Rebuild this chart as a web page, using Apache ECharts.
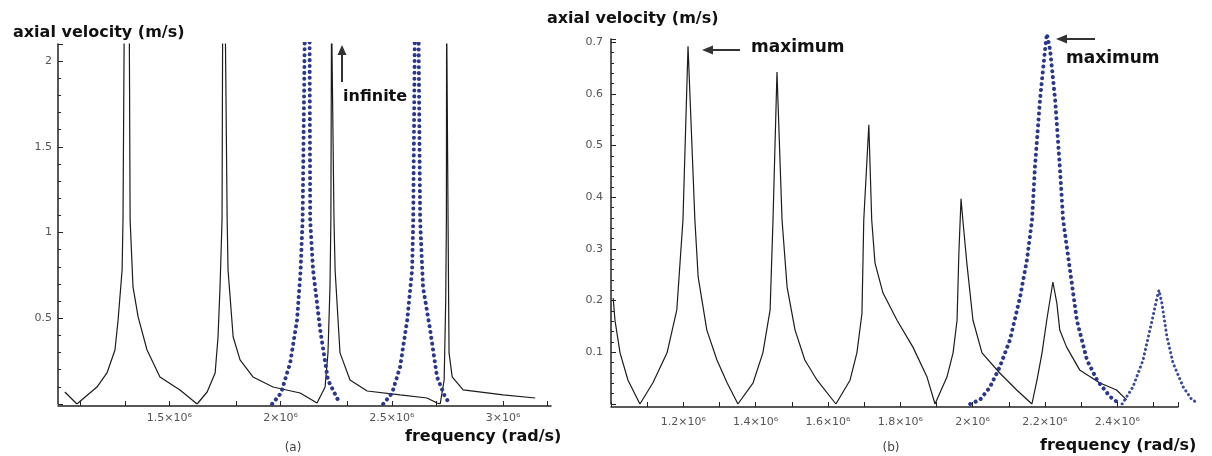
<!DOCTYPE html>
<html><head><meta charset="utf-8">
<script src="https://cdn.jsdelivr.net/npm/echarts@6/dist/echarts.min.js"></script>
<style>html,body{margin:0;padding:0;background:#fff}#c{width:1212px;height:456px}</style>
</head><body><div id="c"></div>
<script>
// frequency in units of 10^6 rad/s, axial velocity in m/s
// (a) solid black curve (values above 2.1 stand for the infinite spikes)
const leftBlack = [
  [1.031,0.070],[1.085,0],[1.175,0.099],[1.220,0.181],[1.256,0.315],[1.270,0.490],[1.288,0.782],[1.292,1.074],[1.298,2.3],[1.320,2.3],[1.324,1.074],[1.337,0.683],[1.360,0.508],[1.400,0.315],[1.458,0.158],[1.548,0.082],[1.625,0],
  [1.670,0.070],[1.706,0.181],[1.719,0.391],[1.728,0.683],[1.737,1.074],[1.740,2.3],[1.751,2.3],[1.760,1.074],[1.764,0.782],[1.787,0.391],[1.818,0.257],[1.876,0.158],[1.966,0.099],[2.088,0.064],[2.164,0.006],[2.169,0],
  [2.200,0.099],[2.213,0.298],[2.222,0.683],[2.226,1.074],[2.229,2.3],[2.236,2.3],[2.240,1.074],[2.245,0.782],[2.267,0.298],[2.312,0.140],[2.389,0.076],[2.537,0.053],[2.658,0.035],[2.703,0.006],[2.717,0],
  [2.735,0.140],[2.742,0.607],[2.745,1.074],[2.746,2.3],[2.754,2.3],[2.755,0.607],[2.757,0.298],[2.771,0.158],[2.820,0.082],[3.000,0.053],[3.144,0.035]
];
// (a) blue dotted curves
const leftBlue1 = [[1.962,0],[2.002,0.064],[2.043,0.239],[2.074,0.490],[2.090,0.782],[2.099,1.074],[2.110,2.3],[2.130,2.3],[2.133,1.074],[2.146,0.782],[2.178,0.432],[2.213,0.140],[2.267,0]];
const leftBlue2 = [[2.461,0],[2.501,0.064],[2.537,0.216],[2.569,0.490],[2.591,0.782],[2.596,1.074],[2.604,2.3],[2.619,2.3],[2.627,1.074],[2.640,0.683],[2.672,0.432],[2.703,0.158],[2.739,0.041],[2.762,0]];
// (b) solid black curve
const rightBlack = [
  [1.006,0.205],[1.011,0.162],[1.025,0.099],[1.047,0.046],[1.080,0],
  [1.116,0.041],[1.155,0.099],[1.182,0.182],[1.199,0.356],[1.213,0.692],[1.232,0.356],[1.241,0.246],[1.265,0.143],[1.293,0.085],[1.321,0.041],[1.351,0],
  [1.393,0.041],[1.420,0.099],[1.440,0.182],[1.448,0.356],[1.459,0.642],[1.473,0.356],[1.487,0.226],[1.509,0.143],[1.536,0.085],[1.570,0.046],[1.622,0],
  [1.661,0.046],[1.680,0.099],[1.694,0.175],[1.699,0.356],[1.713,0.540],[1.721,0.356],[1.730,0.273],[1.752,0.215],[1.791,0.162],[1.835,0.110],[1.874,0.052],[1.896,0],
  [1.929,0.052],[1.946,0.099],[1.957,0.162],[1.962,0.292],[1.968,0.397],[1.973,0.356],[1.984,0.273],[2.001,0.162],[2.026,0.099],[2.075,0.060],[2.122,0.027],[2.164,0],
  [2.178,0.046],[2.192,0.099],[2.205,0.162],[2.222,0.236],[2.233,0.195],[2.241,0.143],[2.260,0.110],[2.296,0.066],[2.351,0.041],[2.398,0.027],[2.426,0.008]
];
// (b) blue dotted curves
const rightBlue1 = [[1.993,0],[2.020,0.008],[2.048,0.033],[2.075,0.072],[2.103,0.124],[2.131,0.207],[2.150,0.279],[2.164,0.356],[2.172,0.458],[2.186,0.588],[2.200,0.685],[2.205,0.716],[2.214,0.685],[2.228,0.588],[2.241,0.458],[2.250,0.356],[2.269,0.259],[2.288,0.162],[2.316,0.085],[2.344,0.046],[2.380,0.014],[2.407,0]];
const rightBlue2 = [[2.413,0],[2.443,0.033],[2.471,0.085],[2.496,0.162],[2.510,0.207],[2.515,0.220],[2.523,0.195],[2.537,0.130],[2.554,0.079],[2.582,0.033],[2.606,0.008],[2.623,0.002]];

// axis ticks / labels
const leftXTicks = [1.1,1.3,1.5,1.8,2.0,2.3,2.5,2.7,3.0,3.2];
const leftXLabels = [1.5,2,2.5,3];
const rightXLabels = [1.2,1.4,1.6,1.8,2.0,2.2,2.4];
const yTitle = 'axial velocity (m/s)';
const xTitle = 'frequency (rad/s)';
const notes = {infinite:'infinite', maximum:'maximum', a:'(a)', b:'(b)'};

const AX = '#222';
const TICKFONT = {color:'#555', fontFamily:'DejaVu Sans', fontSize:11};
const sci = v => (Math.round(v*10)/10) + '×10⁶';
const inList = (list, v) => list.some(l => Math.abs(l - v) < 1e-6);

function blackSeries(data, xi){
  return {type:'line', xAxisIndex:xi, yAxisIndex:xi, data, showSymbol:false, symbol:'none',
    lineStyle:{color:'#1c1c1c', width:1.2}, z:3};
}
function blueSeries(data, xi, w, gap, color){
  return {type:'line', xAxisIndex:xi, yAxisIndex:xi, data, showSymbol:false, symbol:'none',
    lineStyle:{color, width:w, type:[0.1, gap], cap:'round'}, z:4};
}
const hiddenAxis = {show:false, axisLine:{show:false}, axisTick:{show:false}, axisLabel:{show:false}, splitLine:{show:false}};

const option = {
  animation:false,
  backgroundColor:'#fff',
  grid:[
    {left:58, top:44, width:493, height:360},
    {left:611, top:39, width:567, height:365},
    // overlay grid with the same scale as (b), but larger extent so the blue curves can leave the axes box
    {left:611, top:16.25, width:596.8, height:387.75}
  ],
  xAxis:[
    {gridIndex:0, type:'value', min:1.0, max:3.215, interval:0.5, offset:2,
      axisLine:{onZero:false, lineStyle:{color:AX, width:1.5}},
      axisTick:{inside:true, length:5, customValues:leftXTicks, lineStyle:{color:AX}},
      axisLabel:Object.assign({margin:7, customValues:leftXLabels, formatter:v => inList(leftXLabels, v) ? sci(v) : ''}, TICKFONT),
      splitLine:{show:false}},
    {gridIndex:1, type:'value', min:1.0, max:2.568, interval:0.1, offset:3,
      axisLine:{onZero:false, lineStyle:{color:AX, width:1.5}},
      axisTick:{inside:true, length:5, lineStyle:{color:AX}},
      axisLabel:Object.assign({margin:10, formatter:v => inList(rightXLabels, v) ? sci(v) : ''}, TICKFONT),
      splitLine:{show:false}},
    Object.assign({gridIndex:2, type:'value', min:1.0, max:2.65}, hiddenAxis)
  ],
  yAxis:[
    {gridIndex:0, type:'value', min:0, max:2.1, interval:0.5,
      axisLine:{show:true, lineStyle:{color:AX, width:1.5}},
      axisTick:{show:true, inside:true, length:5, lineStyle:{color:AX}},
      minorTick:{show:true, splitNumber:5, length:3, lineStyle:{color:AX}},
      axisLabel:Object.assign({margin:6, showMaxLabel:false,
        formatter:v => (v === 0 || Math.abs(v*2 - Math.round(v*2)) > 1e-6) ? '' : String(v)}, TICKFONT),
      splitLine:{show:false}, minorSplitLine:{show:false}},
    {gridIndex:1, type:'value', min:0, max:0.706, interval:0.1,
      axisLine:{show:true, lineStyle:{color:AX, width:1.5}},
      axisTick:{show:true, inside:true, length:5, lineStyle:{color:AX}},
      minorTick:{show:true, splitNumber:5, length:3, lineStyle:{color:AX}},
      axisLabel:Object.assign({margin:8, showMaxLabel:false,
        formatter:v => (v < 1e-9 || Math.abs(v*10 - Math.round(v*10)) > 1e-6) ? '' : v.toFixed(1)}, TICKFONT),
      splitLine:{show:false}, minorSplitLine:{show:false}},
    Object.assign({gridIndex:2, type:'value', min:0, max:0.75}, hiddenAxis)
  ],
  series:[
    blackSeries(leftBlack, 0),
    blueSeries(leftBlue1, 0, 4, 5.8, '#2a378f'),
    blueSeries(leftBlue2, 0, 4, 5.8, '#2a378f'),
    blackSeries(rightBlack, 1),
    blueSeries(rightBlue1, 2, 4, 5.8, '#2a378f'),
    blueSeries(rightBlue2, 2, 3, 4.5, '#3b4a9c')
  ],
  graphic:[
    {type:'text', x:13, y:32.5, style:{text:yTitle, font:'bold 16px "DejaVu Sans"', fill:'#111', align:'left', verticalAlign:'middle', textAlign:'left', textVerticalAlign:'middle'}},
    {type:'text', x:547, y:18.5, style:{text:yTitle, font:'bold 16px "DejaVu Sans"', fill:'#111', align:'left', verticalAlign:'middle', textAlign:'left', textVerticalAlign:'middle'}},
    {type:'text', x:405, y:437, style:{text:xTitle, font:'bold 16px "DejaVu Sans"', fill:'#111', align:'left', verticalAlign:'middle', textAlign:'left', textVerticalAlign:'middle'}},
    {type:'text', x:1040, y:446, style:{text:xTitle, font:'bold 16px "DejaVu Sans"', fill:'#111', align:'left', verticalAlign:'middle', textAlign:'left', textVerticalAlign:'middle'}},
    {type:'text', x:293, y:447.5, style:{text:notes.a, font:'12px "DejaVu Sans"', fill:'#444', align:'center', verticalAlign:'middle', textAlign:'center', textVerticalAlign:'middle'}},
    {type:'text', x:891, y:448, style:{text:notes.b, font:'12px "DejaVu Sans"', fill:'#444', align:'center', verticalAlign:'middle', textAlign:'center', textVerticalAlign:'middle'}},
    // infinite arrow
    {type:'line', shape:{x1:342, y1:82, x2:342, y2:53}, style:{stroke:'#333', lineWidth:2}},
    {type:'polygon', shape:{points:[[342,45],[337.5,55],[346.5,55]]}, style:{fill:'#333'}},
    {type:'text', x:343, y:97, style:{text:notes.infinite, font:'bold 16px "DejaVu Sans"', fill:'#111', align:'left', verticalAlign:'middle', textAlign:'left', textVerticalAlign:'middle'}},
    // maximum arrow 1
    {type:'line', shape:{x1:740, y1:50, x2:710, y2:50}, style:{stroke:'#333', lineWidth:2}},
    {type:'polygon', shape:{points:[[702,50],[713,45.5],[713,54.5]]}, style:{fill:'#333'}},
    {type:'text', x:751, y:47.5, style:{text:notes.maximum, font:'bold 17px "DejaVu Sans"', fill:'#111', align:'left', verticalAlign:'middle', textAlign:'left', textVerticalAlign:'middle'}},
    // maximum arrow 2
    {type:'line', shape:{x1:1095, y1:39, x2:1065, y2:39}, style:{stroke:'#333', lineWidth:2}},
    {type:'polygon', shape:{points:[[1056,39],[1067,34.5],[1067,43.5]]}, style:{fill:'#333'}},
    {type:'text', x:1066, y:58.5, style:{text:notes.maximum, font:'bold 17px "DejaVu Sans"', fill:'#111', align:'left', verticalAlign:'middle', textAlign:'left', textVerticalAlign:'middle'}}
  ]
};
const chart = echarts.init(document.getElementById('c'), null, {renderer:'canvas'});
chart.setOption(option);
</script></body></html>
